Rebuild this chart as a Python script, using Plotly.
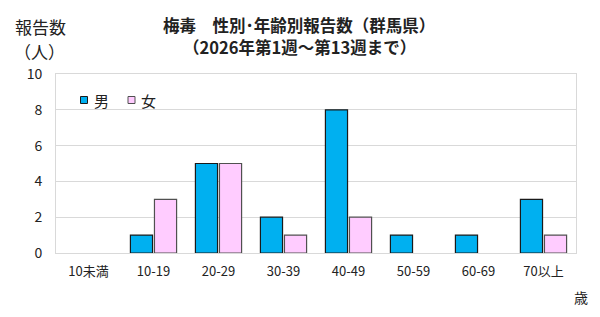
import plotly.graph_objects as go

categories = ["10未満", "10-19", "20-29", "30-39", "40-49", "50-59", "60-69", "70以上"]
male = [0, 1, 5, 2, 8, 1, 1, 3]
female = [0, 3, 5, 1, 2, 0, 0, 1]
series_names = ["男", "女"]
series_colors = ["#00B0F0", "#FFCCFF"]
outline_colors = ["#1a1a1a", "#505050"]

FONT = "Noto Sans CJK JP"

def shown(vals):
    return [v if v != 0 else None for v in vals]

fig = go.Figure()
for vals, name, col, oc in zip([male, female], series_names, series_colors, outline_colors):
    fig.add_trace(go.Bar(x=categories, y=shown(vals), name=name, showlegend=False,
                         marker=dict(color=col, line=dict(color=oc, width=1.2))))

fig.update_layout(
    width=600, height=317,
    margin=dict(l=56, r=24, t=74, b=64),
    paper_bgcolor="white", plot_bgcolor="white",
    font=dict(family=FONT, size=13, color="#222"),
    barmode="group", bargap=0.26, bargroupgap=0.08,
    xaxis=dict(showgrid=False, showline=True, linecolor="#d9d9d9", mirror=True,
               ticks="", tickfont=dict(size=13), ticklabelstandoff=6, fixedrange=True),
    yaxis=dict(range=[0, 10], dtick=2, showgrid=True, gridcolor="#d9d9d9",
               showline=True, linecolor="#d9d9d9", mirror=True, zeroline=False,
               ticks="", tickfont=dict(size=14), ticklabelstandoff=10, fixedrange=True),
)

# custom legend (small outlined squares + labels)
legend_pos = [(24.5, 92), (72, 139)]  # pixel offsets from plot left: square x, text x
for (sx, tx), name, col, oc in zip(legend_pos, series_names, series_colors, outline_colors):
    fig.add_shape(type="rect", xref="paper", yref="paper",
                  xsizemode="pixel", ysizemode="pixel", xanchor=0, yanchor=1,
                  x0=sx, x1=sx + 7, y0=-29.5, y1=-22.5,
                  fillcolor=col, line=dict(color=oc, width=1))
    fig.add_annotation(text=name, xref="paper", yref="paper", x=0, xshift=sx + 11,
                       y=1, yshift=-26, xanchor="left", yanchor="middle",
                       showarrow=False, font=dict(size=15))

fig.add_annotation(text="<b>梅毒　性別･年齢別報告数（群馬県）</b>", xref="paper", yref="paper",
                   x=0.5, xshift=-17, y=1, yshift=49, xanchor="center", yanchor="middle",
                   showarrow=False, font=dict(size=16.5))
fig.add_annotation(text="<b>（2026年第1週～第13週まで）</b>", xref="paper", yref="paper",
                   x=0.5, xshift=-17, y=1, yshift=27, xanchor="center", yanchor="middle",
                   showarrow=False, font=dict(size=16.5))
fig.add_annotation(text="報告数", xref="paper", yref="paper",
                   x=0, xshift=-16, y=1, yshift=48, xanchor="center", yanchor="middle",
                   showarrow=False, font=dict(size=17))
fig.add_annotation(text="（人）", xref="paper", yref="paper",
                   x=0, xshift=-17, y=1, yshift=23, xanchor="center", yanchor="middle",
                   showarrow=False, font=dict(size=17))
fig.add_annotation(text="歳", xref="paper", yref="paper",
                   x=1, xshift=5, y=0, yshift=-44, xanchor="center", yanchor="middle",
                   showarrow=False, font=dict(size=14))

fig.write_html("out.html")
